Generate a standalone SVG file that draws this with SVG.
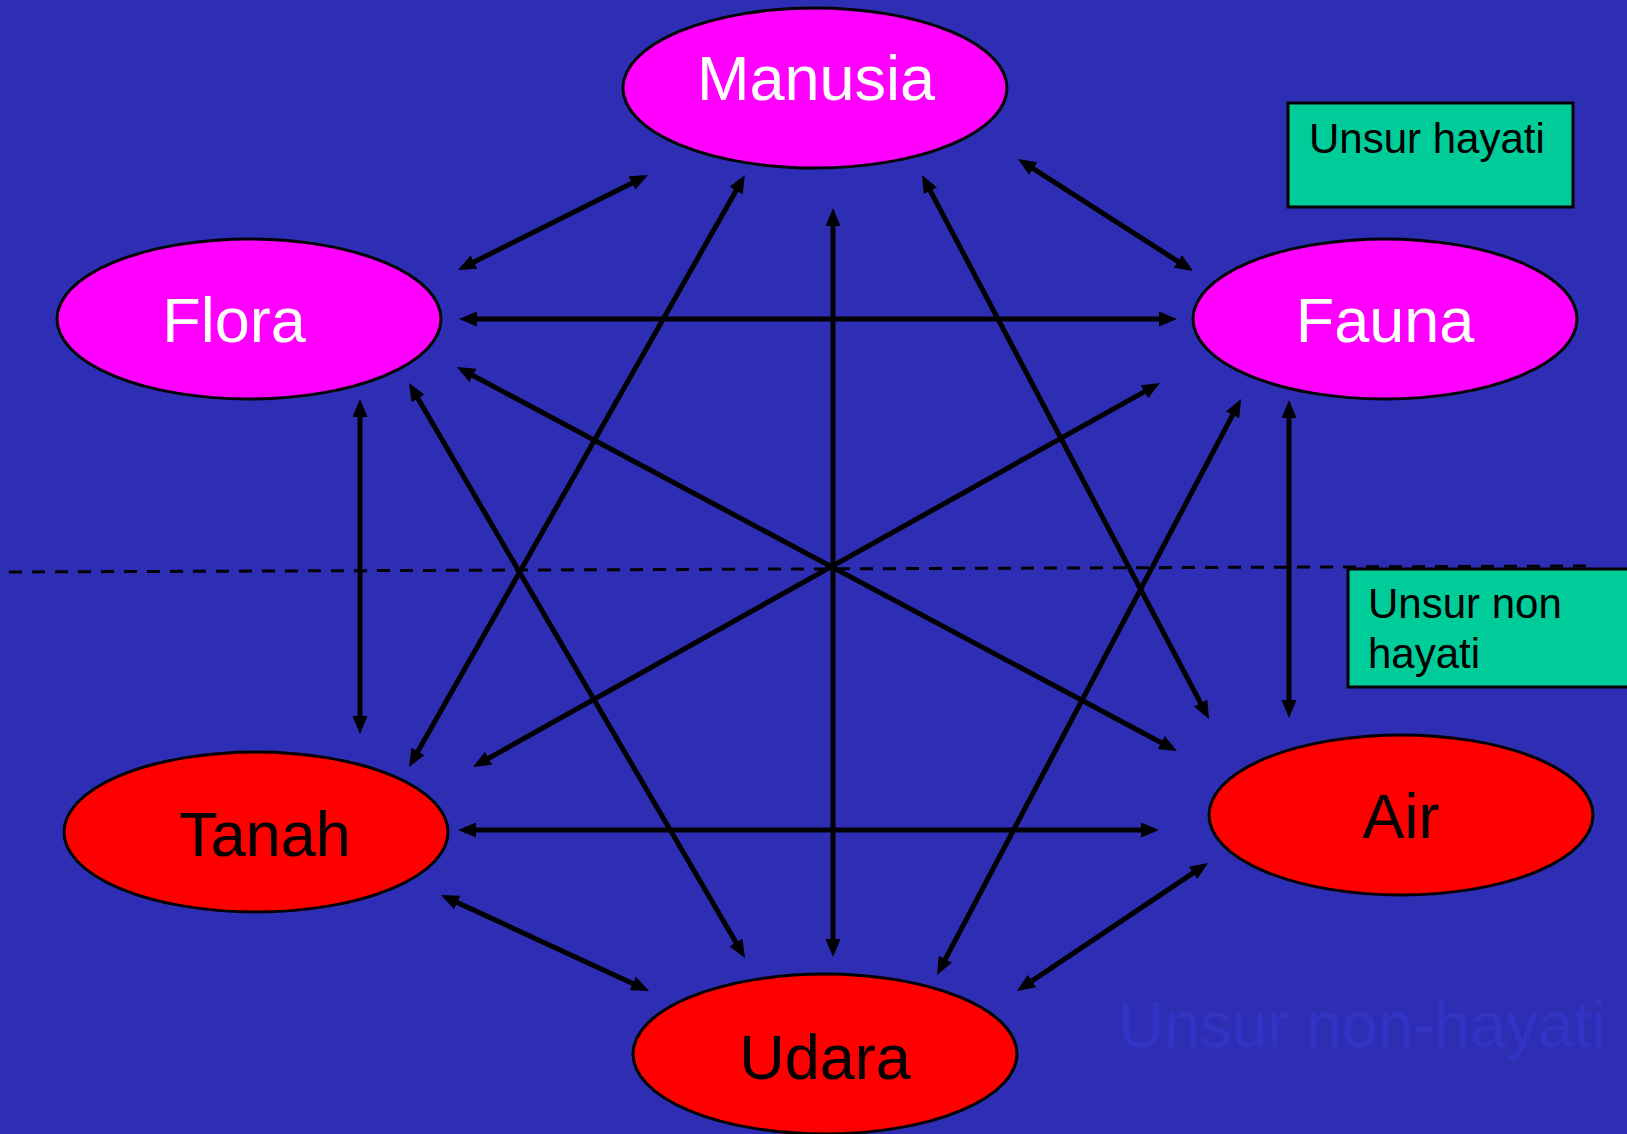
<svg xmlns="http://www.w3.org/2000/svg" width="1627" height="1134" viewBox="0 0 1627 1134">
<style>
.bg{fill:#2E2EB5}
.node{stroke:#000;stroke-width:3}
.hay{fill:#FF00FF}
.non{fill:#FF0000}
.lbl{font-family:"Liberation Sans",Arial,sans-serif;font-size:63px;text-anchor:middle}
.w{fill:#fff}
.k{fill:#000}
.box{fill:#00CC99;stroke:#000;stroke-width:3}
.bt{font-family:"Liberation Sans",Arial,sans-serif;font-size:42px;fill:#000}
.conn{stroke:#000;stroke-width:5;fill:none;marker-start:url(#ah);marker-end:url(#ah)}
.dash{stroke:#000;stroke-width:3;stroke-dasharray:13 10;fill:none}
.wm{font-family:"Liberation Sans",Arial,sans-serif;font-size:64px;fill:#3434C4}
</style>
<defs>
<marker id="ah" markerUnits="userSpaceOnUse" viewBox="0 0 18 15" refX="12" refY="7.5" markerWidth="18" markerHeight="15" orient="auto-start-reverse">
<path d="M0,0 L18,7.5 L0,15 z" fill="#000"/>
</marker>
</defs>
<rect class="bg" x="0" y="0" width="1627" height="1134"/>
<text class="wm" x="1118" y="1047">Unsur non-hayati</text>
<path class="dash" d="M9,572 L1587,566"/>
<g id="connectors">
<path class="conn" d="M463.4,267.3 L642.6,177.7"/>
<path class="conn" d="M1023.1,162.2 L1187.9,267.8"/>
<path class="conn" d="M465,319 L1171,319"/>
<path class="conn" d="M742,180.2 L412,761.8"/>
<path class="conn" d="M833,214 L833,951"/>
<path class="conn" d="M924.8,180.3 L1206.2,713.7"/>
<path class="conn" d="M462.3,369.8 L1171.7,748.2"/>
<path class="conn" d="M412,388.2 L742,952.8"/>
<path class="conn" d="M360,405 L360,728"/>
<path class="conn" d="M1154.8,385.9 L478.2,764.1"/>
<path class="conn" d="M1238.2,404.3 L939.8,969.7"/>
<path class="conn" d="M1289,406 L1289,712"/>
<path class="conn" d="M464,830 L1153,830"/>
<path class="conn" d="M446.4,897.5 L643.6,988.5"/>
<path class="conn" d="M1022,987.7 L1203,866.3"/>
</g>
<g id="manusia">
<ellipse class="node hay" cx="815" cy="88" rx="192" ry="80"/>
<text class="lbl w" x="816" y="100">Manusia</text>
</g>
<g id="flora">
<ellipse class="node hay" cx="249" cy="319" rx="192" ry="80"/>
<text class="lbl w" x="234" y="342">Flora</text>
</g>
<g id="fauna">
<ellipse class="node hay" cx="1385" cy="319" rx="192" ry="80"/>
<text class="lbl w" x="1385" y="342">Fauna</text>
</g>
<g id="tanah">
<ellipse class="node non" cx="256" cy="832" rx="192" ry="80"/>
<text class="lbl k" x="265" y="856">Tanah</text>
</g>
<g id="air">
<ellipse class="node non" cx="1401" cy="815" rx="192" ry="80"/>
<text class="lbl k" x="1401" y="838">Air</text>
</g>
<g id="udara">
<ellipse class="node non" cx="825" cy="1054" rx="192" ry="80"/>
<text class="lbl k" x="825" y="1079">Udara</text>
</g>
<g id="unsur-hayati">
<rect class="box" x="1288" y="103" width="285" height="104"/>
<text class="bt" x="1309" y="153">Unsur hayati</text>
</g>
<g id="unsur-non-hayati">
<rect class="box" x="1348" y="569" width="290" height="118"/>
<text class="bt" x="1368" y="618">Unsur non</text>
<text class="bt" x="1368" y="668">hayati</text>
</g>
</svg>
